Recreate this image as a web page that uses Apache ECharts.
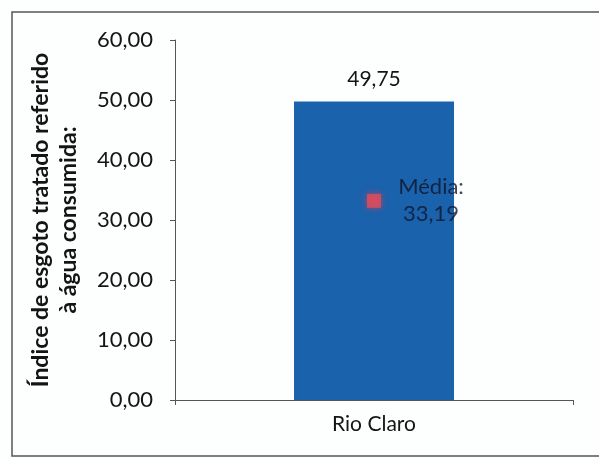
<!DOCTYPE html>
<html>
<head>
<meta charset="utf-8">
<script src="https://cdn.jsdelivr.net/npm/echarts@6/dist/echarts.min.js"></script>
<style>
  html, body { margin: 0; padding: 0; background: #fdfefe; }
  #chart { width: 599px; height: 459px; }
</style>
</head>
<body>
<div id="chart"></div>
<script>
// Municipality and its index value
const categories = ['Rio Claro'];
const indexValues = [49.75];
// Average across municipalities
const averageValues = [33.19];
const averageLabel = 'Média:';
// Y axis range
const yMin = 0, yMax = 60, yStep = 10;
const yTitle = 'Índice de esgoto tratado referido\nà água consumida:';

const fmt = v => v.toFixed(2).replace('.', ',');
const font = 'Lato, "Open Sans", sans-serif';

const chart = echarts.init(document.getElementById('chart'), null, { renderer: 'canvas' });
chart.setOption({
  backgroundColor: '#fdfefe',
  animation: false,
  graphic: [{
    type: 'rect',
    shape: { x: 12, y: 12, width: 640, height: 444 },
    style: { fill: 'none', stroke: '#555', lineWidth: 1.5 },
    silent: true
  }],
  grid: { left: 175, right: 26, top: 40, bottom: 59 },
  xAxis: {
    type: 'category',
    data: categories,
    boundaryGap: true,
    axisLine: { lineStyle: { color: '#555', width: 1 } },
    axisTick: { show: true, length: 5, lineStyle: { color: '#555' } },
    axisLabel: { color: '#141414', fontSize: 21, fontFamily: font, margin: 14 }
  },
  yAxis: {
    type: 'value',
    min: yMin, max: yMax, interval: yStep,
    name: yTitle,
    nameLocation: 'middle',
    nameGap: 92,
    nameRotate: 90,
    nameTextStyle: { color: '#141414', fontSize: 23, fontWeight: 'bold', fontFamily: font, lineHeight: 28 },
    axisLine: { show: true, lineStyle: { color: '#555', width: 1 } },
    axisTick: { show: true, length: 5, lineStyle: { color: '#555' } },
    splitLine: { show: false },
    axisLabel: { color: '#141414', fontSize: 22, fontFamily: font, margin: 22, formatter: fmt }
  },
  series: [{
    type: 'bar',
    data: indexValues,
    barWidth: 160,
    itemStyle: { color: '#1a62ac' },
    label: {
      show: true, position: 'top', distance: 12,
      color: '#141414', fontSize: 21, fontFamily: font,
      formatter: p => fmt(p.value)
    },
    z: 2
  }, {
    type: 'scatter',
    data: averageValues,
    symbol: 'rect',
    symbolSize: 14,
    itemStyle: { color: '#e04e5c', shadowColor: 'rgba(230,60,80,0.9)', shadowBlur: 6 },
    label: {
      show: true, position: [64, 7], align: 'center', verticalAlign: 'middle',
      color: '#10152a', fontSize: 22, fontFamily: font, lineHeight: 27,
      formatter: p => averageLabel + '\n' + fmt(p.value)
    },
    z: 3
  }]
});
</script>
</body>
</html>
